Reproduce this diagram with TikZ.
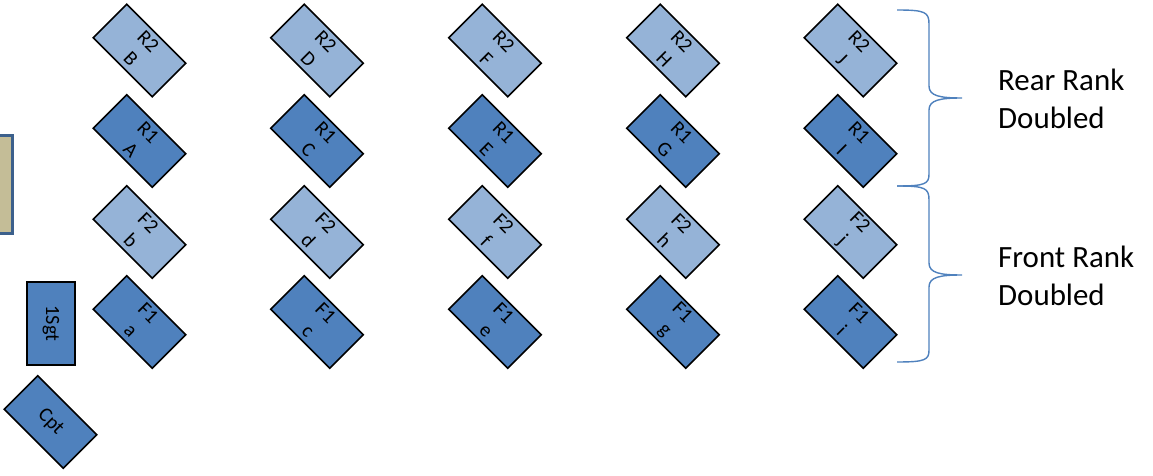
\documentclass[tikz,border=0pt]{standalone}
\usepackage{fontspec}
\setmainfont{Carlito}
\usepackage{tikz}
\usetikzlibrary{positioning,calc}
\definecolor{rankdark}{RGB}{79,129,189}
\definecolor{ranklight}{RGB}{149,179,215}
\definecolor{postfill}{RGB}{196,189,151}
\definecolor{postedge}{RGB}{60,96,140}

\begin{document}
\begin{tikzpicture}[x=0.02cm, y=-0.02cm,
  man/.style={rectangle, draw=black, line width=0.9pt, rotate=-45,
    minimum width=1.67cm, minimum height=0.95cm, inner sep=0pt,
    font=\fontsize{11.5}{14}\selectfont, align=center},
  front/.style={man, fill=rankdark},
  rear/.style={man, fill=ranklight},
  brace/.style={draw=rankdark, line width=0.8pt},
  label/.style={font=\fontsize{17.6}{21.5}\selectfont, align=left, anchor=west}
]
  \useasboundingbox (0,0) rectangle (1153,476);
  \clip (0,0) rectangle (1153,476);

  % Officers
  \node[rectangle, draw=postedge, line width=1.6pt, fill=postfill,
    minimum width=0.9cm, minimum height=1.97cm] (post) at (-10,184.5) {};
  \node[rectangle, draw=black, line width=0.9pt, fill=rankdark,
    minimum width=0.97cm, minimum height=1.67cm, inner sep=0pt,
    font=\fontsize{11.5}{14}\selectfont] (sgt) at (51,323.5) {\rotatebox{-90}{1Sgt}};
  \node[front] (cpt) at (50.5,422) {Cpt};

  % File 1
  \node[rear]  (b2) at (139.5,50.5) {R2\\B};
  \node[front] (a1) at (139.5,141)  {R1\\A};
  \node[rear]  (b0) at (139.5,232)  {F2\\b};
  \node[front] (a0) at (139.5,322)  {F1\\a};

  % File 2
  \node[rear]  (d2) at (317,50.5) {R2\\D};
  \node[front] (c1) at (317,141)  {R1\\C};
  \node[rear]  (d0) at (317,232)  {F2\\d};
  \node[front] (c0) at (317,322)  {F1\\c};

  % File 3
  \node[rear]  (f2) at (495,50.5) {R2\\F};
  \node[front] (e1) at (495,141)  {R1\\E};
  \node[rear]  (f0) at (495,232)  {F2\\f};
  \node[front] (e0) at (495,322)  {F1\\e};

  % File 4
  \node[rear]  (h2) at (673,50.5) {R2\\H};
  \node[front] (g1) at (673,141)  {R1\\G};
  \node[rear]  (h0) at (673,232)  {F2\\h};
  \node[front] (g0) at (673,322)  {F1\\g};

  % File 5
  \node[rear]  (j2) at (850.5,50.5) {R2\\J};
  \node[front] (i1) at (850.5,141)  {R1\\I};
  \node[rear]  (j0) at (850.5,232)  {F2\\j};
  \node[front] (i0) at (850.5,322)  {F1\\i};

  % Braces
  \draw[brace] (897,10) .. controls (925,10) and (929,12) .. (929,24)
    -- (929,86) .. controls (929,96) and (940,98) .. (962,98)
    .. controls (940,98) and (929,100) .. (929,110)
    -- (929,174) .. controls (929,184) and (925,186) .. (897,186);
  \draw[brace] (897,186) .. controls (925,186) and (929,188) .. (929,200)
    -- (929,263) .. controls (929,273) and (940,275) .. (962,275)
    .. controls (940,275) and (929,277) .. (929,287)
    -- (929,350) .. controls (929,360) and (925,362) .. (897,362);

  % Labels
  \node[label] (rearlbl) at (992,99) {Rear Rank\\Doubled};
  \node[label] (frontlbl) at (992,276) {Front Rank\\Doubled};
\end{tikzpicture}
\end{document}
